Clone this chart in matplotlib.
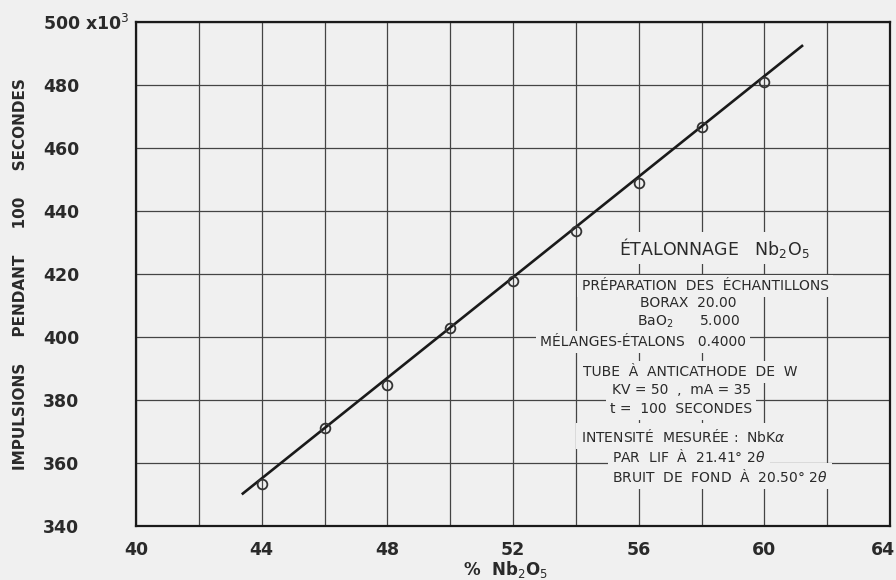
import matplotlib
matplotlib.use("Agg")
import matplotlib.pyplot as plt
import matplotlib.transforms as mtransforms
import numpy as np

# ---- data ----
pct_nb2o5 = [44, 46, 48, 50, 52, 54, 56, 58, 60]
counts_k = [353.3, 371.0, 384.8, 402.9, 417.8, 433.7, 448.9, 466.7, 481.0]
line_x = [43.4, 61.2]
line_y = [350.3, 492.4]

x_ticks = [40, 44, 48, 52, 56, 60, 64]
x_tick_labels = ["40", "44", "48", "52", "56", "60", "64"]
y_ticks = [340, 360, 380, 400, 420, 440, 460, 480, 500]
y_tick_labels = ["340", "360", "380", "400", "420", "440", "460", "480", r"500 x10$^3$"]

BG = "#f0f0f0"
INK = "#1a1a1a"

plt.rcParams['font.family'] = ['DejaVu Sans']
plt.rcParams['mathtext.fontset'] = 'dejavusans'

fig = plt.figure(figsize=(8.96, 5.80), dpi=100, facecolor=BG)
ax = fig.add_axes([136/896, 1-526/580, (890-136)/896, (526-22)/580])
ax.set_facecolor(BG)

ax.set_xlim(40, 64)
ax.set_ylim(340, 500)

# grid every 2 % and every 20 k
ax.set_xticks(np.arange(40, 65, 2), minor=True)
ax.grid(True, which='both', axis='x', color='#444444', lw=0.9, zorder=0)
ax.grid(True, which='major', axis='y', color='#444444', lw=0.9, zorder=0)
ax.set_axisbelow(True)

ax.set_xticks(x_ticks)
ax.set_xticklabels(x_tick_labels)
ax.set_yticks(y_ticks)
ax.set_yticklabels(y_tick_labels, ha='left')
ax.tick_params(axis='both', which='both', length=0, colors=INK, labelsize=12.5)
ax.tick_params(axis='y', pad=67)
ax.tick_params(axis='x', pad=11)
for lab in ax.get_xticklabels() + ax.get_yticklabels():
    lab.set_fontweight('bold')
    lab.set_color('#2a2a2a')
# keep the last x label inside the figure
last = ax.get_xticklabels()[-1]
last.set_ha('right')
last.set_transform(last.get_transform() +
                   mtransforms.ScaledTranslation(5/100, 0, fig.dpi_scale_trans))

for s in ax.spines.values():
    s.set_color(INK)
    s.set_linewidth(1.6)

ax.plot(line_x, line_y, color=INK, lw=1.9, zorder=3)
ax.plot(pct_nb2o5, counts_k, linestyle='none', marker='o', ms=7,
        mfc='none', mec='#333333', mew=1.3, zorder=4)

ax.set_xlabel(r"%  Nb$_2$O$_5$", fontsize=12, fontweight='bold', color='#2a2a2a')
ax.xaxis.set_label_coords(0.49, -0.065)
ax.set_ylabel("IMPULSIONS     PENDANT     100     SECONDES", fontsize=11,
              fontweight='bold', color='#2a2a2a')
ax.yaxis.set_label_coords(-0.143, 0.5)

box = dict(facecolor=BG, edgecolor='none', pad=3)

def note(x, y, s, size=10, ha='center'):
    ax.annotate(s, xy=(x / 896, 1 - y / 580), xycoords='figure fraction',
                ha=ha, va='center', fontsize=size, color='#2a2a2a',
                bbox=box, zorder=5)

note(714, 248, r"ÉTALONNAGE   Nb$_2$O$_5$", size=12.5)
note(705, 286, "PRÉPARATION  DES  ÉCHANTILLONS")
note(688, 303, "BORAX  20.00")
note(688, 322, r"BaO$_2$      5.000")
note(643, 342, "MÉLANGES-ÉTALONS   0.4000")
note(690, 372, "TUBE  À  ANTICATHODE  DE  W")
note(682, 390, "KV = 50  ,  mA = 35")
note(681, 409, "t =  100  SECONDES")
note(683, 436, r"INTENSITÉ  MESURÉE :  NbK$\alpha$")
note(612, 456, r"PAR  LIF  À  21.41° 2$\theta$", ha='left')
note(612, 476, r"BRUIT  DE  FOND  À  20.50° 2$\theta$", ha='left')

fig.savefig("out.png", dpi=100, facecolor=BG)
